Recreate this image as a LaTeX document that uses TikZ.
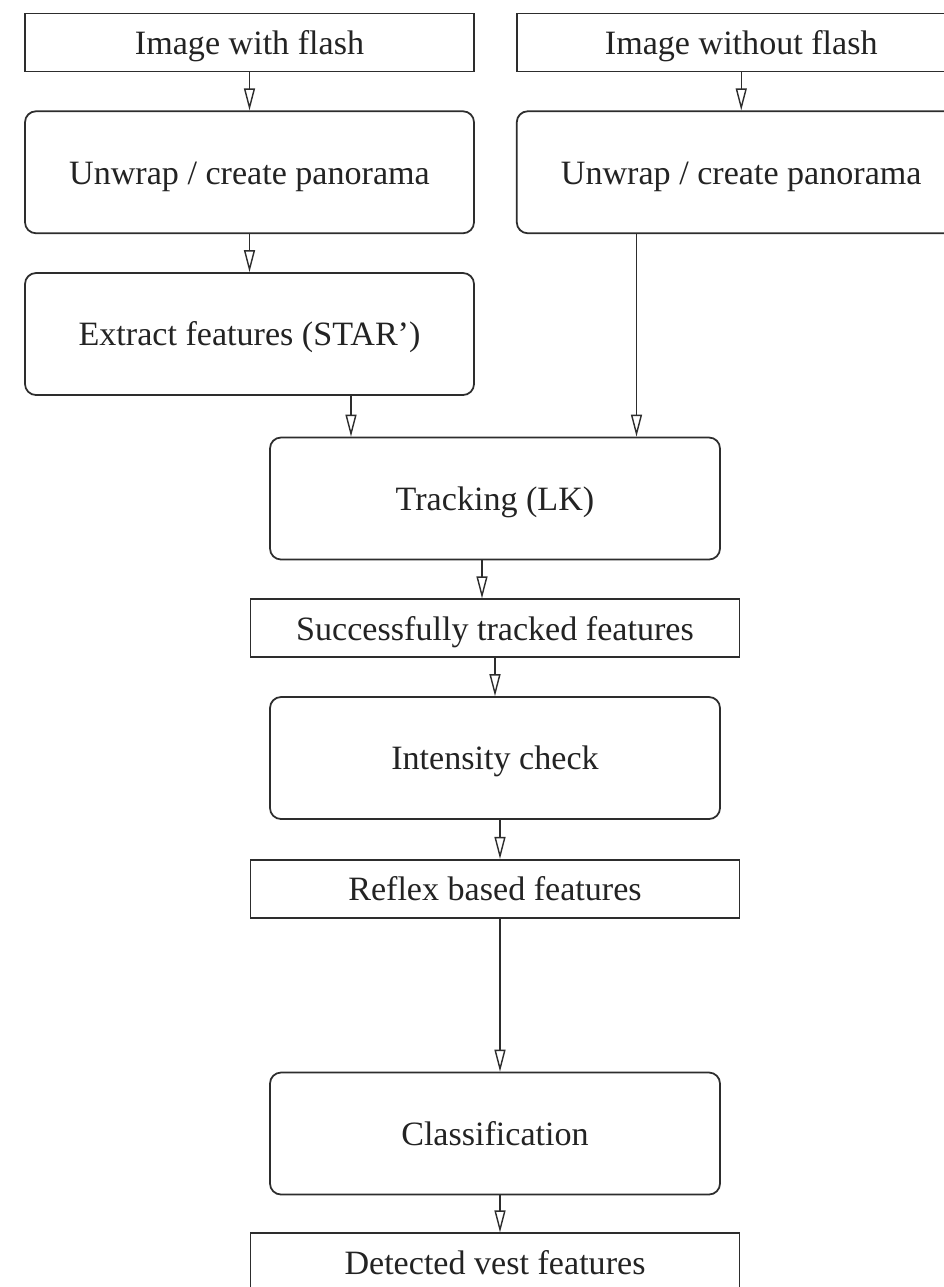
\documentclass[tikz,border=0pt]{standalone}
\usepackage{fontspec}
\setmainfont{Liberation Serif}
\usepackage{tikz}
\usetikzlibrary{arrows.meta,positioning}
\definecolor{linegray}{RGB}{45,45,45}
\definecolor{textgray}{RGB}{35,35,35}

\begin{document}
\begin{tikzpicture}[
 node distance=0.76cm,
 plainbox/.style={rectangle, draw=linegray, line width=1pt, minimum width=8.98cm, minimum height=1.16cm, align=center, text=textgray, text height=13.5pt, text depth=0pt, font=\fontsize{19.4}{23}\selectfont},
 widebox/.style={plainbox, minimum width=9.78cm},
 roundbox/.style={plainbox, rounded corners=0.22cm, minimum height=2.44cm},
 arrow/.style={-{Triangle[open, length=4.4mm, width=2.2mm]}, line width=0.8pt, color=linegray}
]
\useasboundingbox[fill=white] (0,0) rectangle (18.88,-25.74);

% Row 1: Input images
\node[plainbox] (flash) at (4.99,-0.85) {Image with flash};
\node[plainbox, right=0.82cm of flash] (noflash) {Image without flash};

% Row 2: Panoramas
\node[roundbox, below=of flash] (unwrapL) {Unwrap / create panorama};
\node[roundbox, below=of noflash] (unwrapR) {Unwrap / create panorama};

% Row 3: Features
\node[roundbox, below=of unwrapL] (extract) {Extract features (STAR')};

% Row 4: Tracking and checks
\node[roundbox, minimum width=9cm] (tracking) at (9.9,-9.97) {Tracking (LK)};
\node[widebox, below=of tracking] (tracked) {Successfully tracked features};
\node[roundbox, minimum width=9cm, below=of tracked] (intensity) {Intensity check};
\node[widebox, below=0.78cm of intensity] (reflex) {Reflex based features};

% Row 5: Output
\node[roundbox, minimum width=9cm, below=3.06cm of reflex] (classif) {Classification};
\node[widebox, below=0.74cm of classif] (detected) {Detected vest features};

% Arrow columns
\coordinate (colA) at (7.02,0);
\coordinate (colB) at (12.73,0);

% Arrows
\draw[arrow] (flash) -- (unwrapL);
\draw[arrow] (noflash) -- (unwrapR);
\draw[arrow] (unwrapL) -- (extract);
\draw[arrow] (extract.south -| colA) -- (tracking.north -| colA);
\draw[arrow] (unwrapR.south -| colB) -- (tracking.north -| colB);
\draw[arrow] ([xshift=-0.26cm]tracking.south) -- ([xshift=-0.26cm]tracking.south |- tracked.north);
\draw[arrow] (tracked) -- (intensity);
\draw[arrow] ([xshift=0.1cm]intensity.south) -- ([xshift=0.1cm]intensity.south |- reflex.north);
\draw[arrow] ([xshift=0.1cm]reflex.south) -- ([xshift=0.1cm]reflex.south |- classif.north);
\draw[arrow] ([xshift=0.1cm]classif.south) -- ([xshift=0.1cm]classif.south |- detected.north);

\end{tikzpicture}
\end{document}
